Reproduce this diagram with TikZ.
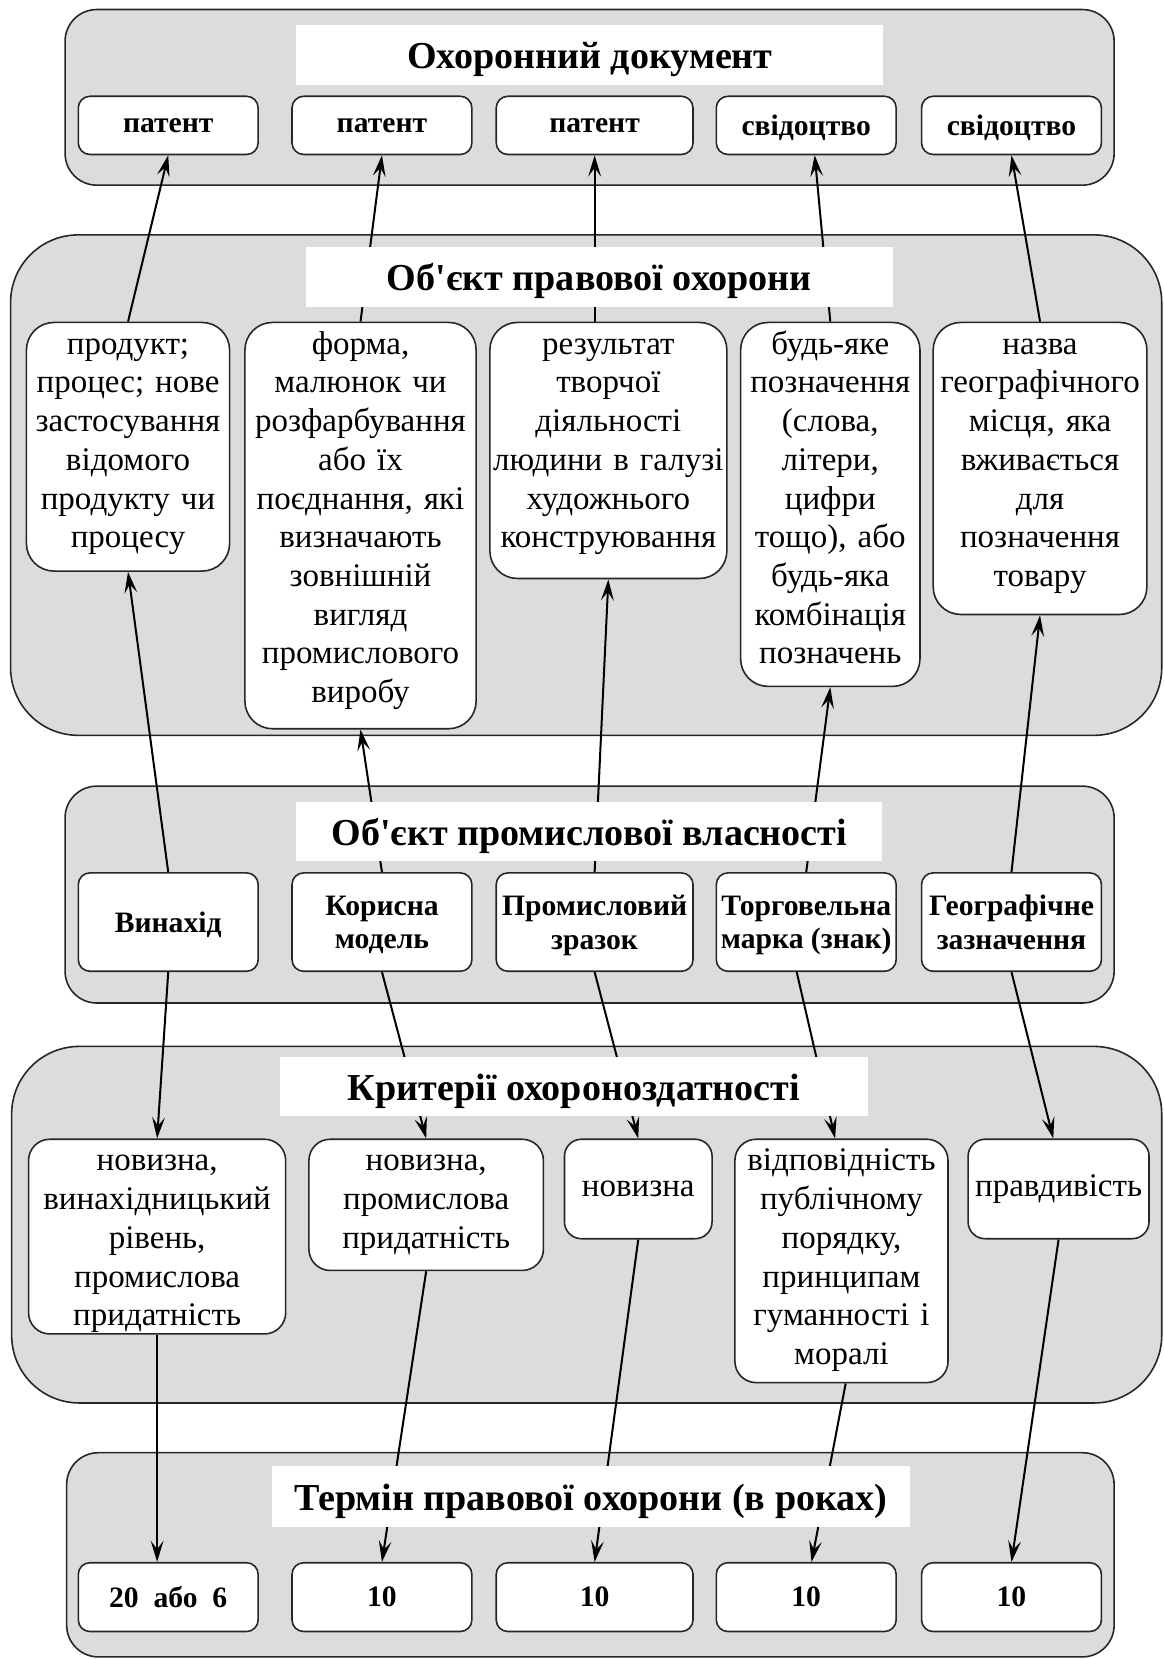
\documentclass[tikz,border=0pt]{standalone}
\usepackage{fontspec}
\setmainfont{Liberation Serif}
\usepackage{tikz}
\usetikzlibrary{arrows.meta}
\definecolor{panelgray}{RGB}{220,220,220}
\pgfdeclarelayer{back}
\pgfdeclarelayer{links}
\pgfsetlayers{back,links,main}

\begin{document}
\begin{tikzpicture}
[x=0.5pt, y=-0.5pt,
panel/.style={draw=black!85, fill=panelgray, line width=0.75pt},
heading/.style={fill=white, inner sep=0pt, text height=13pt, text depth=0pt, font=\fontsize{18}{21}\selectfont\bfseries},
baseshape/.style={draw=black!85, fill=white, line width=0.75pt, rectangle, align=center},
kindbox/.style={baseshape, rounded corners=5.5pt, minimum width=85pt, inner sep=1pt, text depth=0pt, font=\fontsize{14}{15.8}\selectfont\bfseries},
textbox/.style={baseshape, anchor=north, inner xsep=0.5pt, inner ysep=2.5pt, text height=12.5pt, rounded corners=13pt, font=\fontsize{15.6}{18.3}\selectfont},
shortbox/.style={baseshape, anchor=north, inner sep=1pt, minimum height=47pt, rounded corners=8pt, font=\fontsize{15.6}{18.3}\selectfont},
arrow/.style={line width=0.95pt, -{Stealth[length=10pt, width=6pt, inset=4pt]}},
]
\useasboundingbox (0,0) rectangle (1100,1568);

\begin{pgfonlayer}{back}
\draw [panel, rounded corners=15pt] (61.5,9) rectangle (1053,175);
\draw [panel, rounded corners=32pt] (10,222) rectangle (1098,695);
\draw [panel, rounded corners=15pt] (61.5,743) rectangle (1053,948);
\draw [panel, rounded corners=32pt] (11,989) rectangle (1098,1326);
\draw [panel, rounded corners=15pt] (63,1373) rectangle (1053,1566);
\end{pgfonlayer}

\node (dochead) [heading, minimum width=277.5pt, minimum height=28pt] at (557.5,52) {Охоронний документ};
\node (doc1) [kindbox, minimum height=27.5pt] at (159,118.5) {патент};
\node (doc2) [kindbox, minimum height=27.5pt] at (361,118.5) {патент};
\node (doc3) [kindbox, minimum height=27.5pt, minimum width=93pt] at (562,118.5) {патент};
\node (doc4) [kindbox, minimum height=27.5pt] at (762,118.5) {свідоцтво};
\node (doc5) [kindbox, minimum height=27.5pt] at (956,118.5) {свідоцтво};

\node (objhead) [heading, minimum width=277.5pt, minimum height=28.5pt] at (566.5,261.5) {Об\textquotesingle єкт правової охорони};
\node (obj1) [textbox, text width=95pt, text depth=100pt] at (121,304) {продукт;\\процес; нове\\застосування\\відомого\\продукту чи\\процесу};
\node (obj2) [textbox, text width=108.25pt, text depth=174.5pt] at (340.75,304) {форма,\\малюнок чи\\розфарбування\\або їх\\поєднання, які\\визначають\\зовнішній\\вигляд\\промислового\\виробу};
\node (obj3) [textbox, text width=111pt, text depth=103.5pt] at (575,304) {результат\\творчої\\діяльності\\людини в галузі\\художнього\\конструювання};
\node (obj4) [textbox, text width=83.75pt, text depth=154.5pt] at (784.75,304) {будь-яке\\позначення\\(слова,\\літери,\\цифри\\тощо), або\\будь-яка\\комбінація\\позначень};
\node (obj5) [textbox, text width=100pt, text depth=120.5pt] at (983,304) {назва\\географічного\\місця, яка\\вживається\\для\\позначення\\товару};

\node (iphead) [heading, minimum width=277pt, minimum height=28pt] at (557,786) {Об\textquotesingle єкт промислової власності};
\node (ip1) [kindbox, minimum height=46.5pt] at (159,871.5) {Винахід};
\node (ip2) [kindbox, minimum height=46.5pt] at (361,871.5) {Корисна\\модель};
\node (ip3) [kindbox, minimum height=46.5pt, minimum width=93pt] at (562,871.5) {Промисловий\\зразок};
\node (ip4) [kindbox, minimum height=46.5pt] at (762,871.5) {Торговельна\\марка (знак)};
\node (ip5) [kindbox, minimum height=46.5pt] at (956,871.5) {Географічне\\зазначення};

\node (crithead) [heading, minimum width=277.5pt, minimum height=28pt] at (542.5,1027) {Критерії охороноздатності};
\node (crit1) [textbox, rounded corners=10pt, text width=120.5pt, text depth=74.5pt] at (148.5,1076) {новизна,\\винахідницький\\рівень,\\промислова\\придатність};
\node (crit2) [textbox, rounded corners=10pt, text width=109.8pt, text depth=44.5pt] at (402.8,1076) {новизна,\\промислова\\придатність};
\node (crit3) [shortbox, minimum width=69.75pt] at (603.25,1076) {новизна};
\node (crit4) [textbox, rounded corners=10pt, text width=99.7pt, text depth=97.5pt] at (795.3,1076) {відповідність\\публічному\\порядку,\\принципам\\гуманності і\\моралі};
\node (crit5) [shortbox, minimum width=85.5pt] at (1000.5,1076) {правдивість};

\node (termhead) [heading, minimum width=301.5pt, minimum height=28.5pt] at (558.5,1414.5) {Термін правової охорони (в роках)};
\node (term1) [kindbox, minimum height=32.5pt] at (159,1509.5) {20~~або~~6};
\node (term2) [kindbox, minimum height=32.5pt] at (361,1509.5) {10};
\node (term3) [kindbox, minimum height=32.5pt, minimum width=93pt] at (562,1509.5) {10};
\node (term4) [kindbox, minimum height=32.5pt] at (762,1509.5) {10};
\node (term5) [kindbox, minimum height=32.5pt] at (956,1509.5) {10};

\begin{pgfonlayer}{links}
\draw [arrow] (obj1.north) -- (doc1.south);
\draw [arrow] (obj2.north) -- (doc2.south);
\draw [arrow] (obj3.north -| doc3.south) -- (doc3.south);
\draw [arrow] (obj4.north) -- ([xshift=4pt]doc4.south);
\draw [arrow] (obj5.north) -- (doc5.south);

\draw [arrow] (ip1.north) -- (obj1.south);
\draw [arrow] (ip2.north) -- (obj2.south);
\draw [arrow] (ip3.north) -- (obj3.south);
\draw [arrow] (ip4.north) -- (obj4.south);
\draw [arrow] (ip5.north) -- (obj5.south);

\draw [arrow] (ip1.south) -- (crit1.north);
\draw [arrow] (ip2.south) -- (crit2.north);
\draw [arrow] (ip3.south) -- (crit3.north);
\draw [arrow] ([xshift=-4.5pt]ip4.south) -- ([xshift=-3pt]crit4.north);
\draw [arrow] (ip5.south) -- ([xshift=-2.5pt]crit5.north);

\draw [arrow] (crit1.south) -- (crit1.south |- term1.north);
\draw [arrow] (crit2.south) -- (term2.north);
\draw [arrow] (crit3.south) -- (term3.north);
\draw [arrow] ([xshift=2pt]crit4.south) -- ([xshift=2.5pt]term4.north);
\draw [arrow] (crit5.south) -- (term5.north);
\end{pgfonlayer}
\end{tikzpicture}
\end{document}
